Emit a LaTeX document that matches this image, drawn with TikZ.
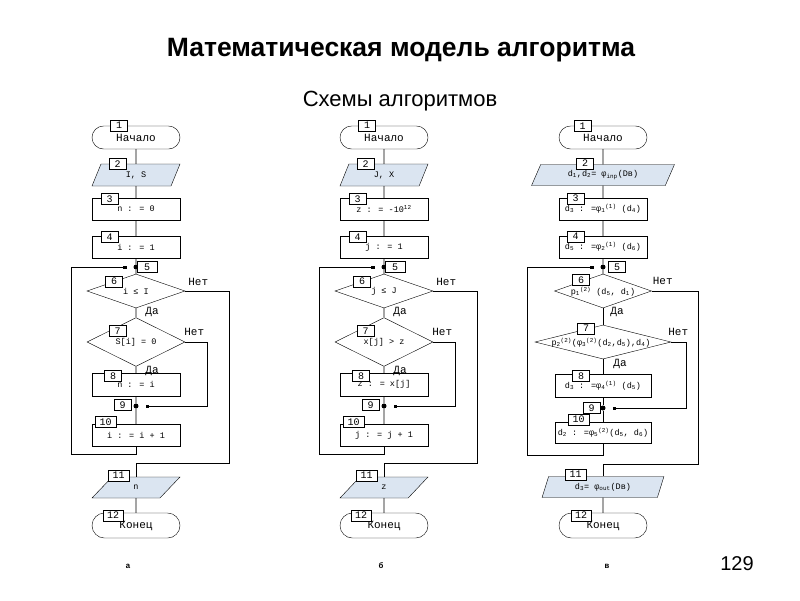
\documentclass[tikz,border=0pt]{standalone}
\usepackage{fontspec}
\setmainfont{Liberation Serif}
\setsansfont{Liberation Sans}
\newfontfamily\chartfont{Liberation Mono}
\usetikzlibrary{shapes.geometric,arrows.meta,calc,positioning}
\definecolor{iofill}{RGB}{219,229,241}
\newcommand{\chsub}[1]{\textsubscript{#1}}
\newcommand{\chsup}[1]{\textsuperscript{#1}}

\begin{document}
\begin{tikzpicture}[x=1pt,y=-1pt,
  every node/.style = {font=\chartfont\fontsize{8.5}{10}\selectfont},
  term/.style = {rectangle, rounded corners=11.5pt, draw, minimum width=88,
    minimum height=23, inner sep=0, font=\chartfont\fontsize{11}{12}\selectfont},
  io/.style = {trapezium, trapezium left angle=70, trapezium right angle=110,
    trapezium stretches=true, draw, fill=iofill, minimum width=88,
    minimum height=22, inner sep=0},
  proc/.style = {rectangle, draw, minimum width=88, minimum height=22, inner sep=0},
  dec/.style = {diamond, draw, minimum width=98, minimum height=34, inner sep=0},
  numbox/.style = {rectangle, draw, fill=white, minimum width=17,
    minimum height=11, inner sep=0, font=\chartfont\fontsize{10}{10}\selectfont},
  jdot/.style = {circle, fill, inner sep=0, minimum size=5},
  ans/.style = {font=\chartfont\fontsize{11}{12}\selectfont},
  flow/.style = {line width=0.6pt},
  jtip/.style = {-{Square[length=3pt,width=3pt]}, shorten >=7pt}]
  \fill[white] (0,0) rectangle (800,600);
  \useasboundingbox (0,0) rectangle (800,600);

  \node[font=\sffamily\bfseries\fontsize{26.5}{30}\selectfont] (title) at (401,50)
    {Математическая модель алгоритма};
  \node[font=\sffamily\fontsize{22}{25}\selectfont] (subtitle) at (400,101)
    {Схемы алгоритмов};
  \node[font=\sffamily\fontsize{20}{22}\selectfont] (page) at (737,564) {129};

  % схема а
  \node[term] (a1) at (136,137.5) {Начало};
  \node[io] (a2) at (136,175) {I, S};
  \node[proc] (a3) at (136,209) {n : = 0};
  \node[proc] (a4) at (136,247) {i : = 1};
  \node[jdot] (a5) at (136,267) {};
  \node[dec] (a6) at (136,291) {i ≤ I};
  \node[dec] (a7) at (136,342) {S[i] = 0};
  \node[proc, minimum height=23] (a8) at (136,384.5) {n : = i};
  \node[jdot] (a9) at (136,406) {};
  \node[proc] (a10) at (136,435) {i : = i + 1};
  \node[io, minimum height=21, trapezium left angle=65, trapezium right angle=115]
    (a11) at (136,487.5) {n};
  \node[term, minimum height=25, rounded corners=12.5pt] (a12) at (136,525.5) {Конец};
  \node[numbox] (a1n) at ($(a1)+(-17,-12)$) {1};
  \node[numbox] (a2n) at ($(a2)+(-18.5,-11)$) {2};
  \node[numbox] (a3n) at ($(a3)+(-26.5,-10)$) {3};
  \node[numbox] (a4n) at ($(a4)+(-26.5,-10)$) {4};
  \node[numbox, minimum width=20] (a5n) at ($(a5)+(11,0)$) {5};
  \node[numbox] (a6n) at ($(a6)+(-22,-9.5)$) {6};
  \node[numbox] (a7n) at ($(a7)+(-18.5,-11)$) {7};
  \node[numbox] (a8n) at ($(a8)+(-23,-8.5)$) {8};
  \node[numbox] (a9n) at ($(a9)+(-13.5,-1)$) {9};
  \node[numbox, minimum width=21] (a10n) at ($(a10)+(-30.5,-13)$) {10};
  \node[numbox, minimum width=21] (a11n) at ($(a11)+(-17.5,-12)$) {11};
  \node[numbox, minimum width=20] (a12n) at ($(a12)+(-23,-10)$) {12};
  \node[ans] (a6yes) at ($(a6.south)+(16,4)$) {Да};
  \node[ans] (a7yes) at ($(a7.south)+(16,4)$) {Да};
  \node[ans] (a6no) at ($(a6.east)+(13,-9)$) {Нет};
  \node[ans] (a7no) at ($(a7.east)+(9,-10)$) {Нет};
  \draw[flow] (a1) -- (a2) -- (a3) -- (a4) -- (a5) -- (a6) -- (a7) -- (a8)
    -- (a9) -- (a10);
  \draw[flow] (a11) -- (a12);
  \draw[flow, jtip] (a10.south) -- ++(0,8) -| ($(a5)+(-65,0)$) -- (a5);
  \draw[flow] (a6.east) -- ++(44,0) |- ($(a11.north)+(0,-14)$) -- (a11.north);
  \draw[flow, jtip] (a7.east) -- ++(22,0) |- (a9);
  \node[font=\chartfont\bfseries\fontsize{8}{9}\selectfont] (capa) at (128,566) {а};

  % схема б
  \node[term] (b1) at (384,137.5) {Начало};
  \node[io] (b2) at (384,175) {J, X};
  \node[proc] (b3) at (384,209) {z : = -10\chsup{12}};
  \node[proc] (b4) at (384,247) {j : = 1};
  \node[jdot] (b5) at (384,267) {};
  \node[dec] (b6) at (384,291) {j ≤ J};
  \node[dec] (b7) at (384,342) {x[j] > z};
  \node[proc, minimum height=23] (b8) at (384,384.5) {z : = x[j]};
  \node[jdot] (b9) at (384,406) {};
  \node[proc] (b10) at (384,435) {j : = j + 1};
  \node[io, minimum height=21, trapezium left angle=65, trapezium right angle=115]
    (b11) at (384,487.5) {z};
  \node[term, minimum height=25, rounded corners=12.5pt] (b12) at (384,525.5) {Конец};
  \node[numbox] (b1n) at ($(b1)+(-17,-12)$) {1};
  \node[numbox] (b2n) at ($(b2)+(-18.5,-11)$) {2};
  \node[numbox] (b3n) at ($(b3)+(-26.5,-10)$) {3};
  \node[numbox] (b4n) at ($(b4)+(-26.5,-10)$) {4};
  \node[numbox, minimum width=20] (b5n) at ($(b5)+(11,0)$) {5};
  \node[numbox] (b6n) at ($(b6)+(-22,-9.5)$) {6};
  \node[numbox] (b7n) at ($(b7)+(-18.5,-11)$) {7};
  \node[numbox] (b8n) at ($(b8)+(-23,-8.5)$) {8};
  \node[numbox] (b9n) at ($(b9)+(-13.5,-1)$) {9};
  \node[numbox, minimum width=21] (b10n) at ($(b10)+(-30.5,-13)$) {10};
  \node[numbox, minimum width=21] (b11n) at ($(b11)+(-17.5,-12)$) {11};
  \node[numbox, minimum width=20] (b12n) at ($(b12)+(-23,-10)$) {12};
  \node[ans] (b6yes) at ($(b6.south)+(16,4)$) {Да};
  \node[ans] (b7yes) at ($(b7.south)+(16,4)$) {Да};
  \node[ans] (b6no) at ($(b6.east)+(13,-9)$) {Нет};
  \node[ans] (b7no) at ($(b7.east)+(9,-10)$) {Нет};
  \draw[flow] (b1) -- (b2) -- (b3) -- (b4) -- (b5) -- (b6) -- (b7) -- (b8)
    -- (b9) -- (b10);
  \draw[flow] (b11) -- (b12);
  \draw[flow, jtip] (b10.south) -- ++(0,8) -| ($(b5)+(-65,0)$) -- (b5);
  \draw[flow] (b6.east) -- ++(44,0) |- ($(b11.north)+(0,-14)$) -- (b11.north);
  \draw[flow, jtip] (b7.east) -- ++(22,0) |- (b9);
  \node[font=\chartfont\bfseries\fontsize{8}{9}\selectfont] (capb) at (381,566) {б};

  % схема в
  \node[term] (c1) at (603,137.5) {Начало};
  \node[io, minimum width=144, minimum height=21, trapezium left angle=60,
    trapezium right angle=120] (c2) at (603,175)
    {d\chsub{1},d\chsub{2}= φ\chsub{inp}(Dв)};
  \node[proc] (c3) at (603,209) {d\chsub{3} : =φ\chsub{1}\chsup{(1)} (d\chsub{4})};
  \node[proc] (c4) at (603,247) {d\chsub{5} : =φ\chsub{2}\chsup{(1)} (d\chsub{6})};
  \node[jdot] (c5) at (603,267) {};
  \node[dec, minimum width=97] (c6) at (603,291) {};
  \node (c6t) at (603,292) {p\chsub{1}\chsup{(2)} (d\chsub{5}, d\chsub{1})};
  \node[dec, minimum width=136] (c7) at (603,342) {};
  \node (c7t) at (601,343)
    {p\chsub{2}\chsup{(2)}(φ\chsub{3}\chsup{(2)}(d\chsub{2},d\chsub{5}),d\chsub{4})};
  \node[proc, minimum width=96, minimum height=23] (c8) at (603,385.5)
    {d\chsub{3} : =φ\chsub{4}\chsup{(1)} (d\chsub{5})};
  \node[jdot] (c9) at (603,408) {};
  \node[proc, minimum width=96, minimum height=21] (c10) at (603,432.5)
    {d\chsub{2} : =φ\chsub{5}\chsup{(2)}(d\chsub{5}, d\chsub{6})};
  \node[io, minimum width=122, minimum height=21, trapezium left angle=67,
    trapezium right angle=113] (c11) at (603,487) {d\chsub{3}= φ\chsub{out}(Dв)};
  \node[term, minimum height=25, rounded corners=12.5pt] (c12) at (603,525.5) {Конец};
  \node[numbox] (c1n) at ($(c1)+(-20.5,-11.5)$) {1};
  \node[numbox] (c2n) at ($(c2)+(-18,-11.5)$) {2};
  \node[numbox] (c3n) at ($(c3)+(-27.5,-10.5)$) {3};
  \node[numbox] (c4n) at ($(c4)+(-27.5,-10.5)$) {4};
  \node[numbox] (c5n) at ($(c5)+(14,0)$) {5};
  \node[numbox] (c6n) at ($(c6)+(-22,-11)$) {6};
  \node[numbox] (c7n) at ($(c7)+(-17,-13.5)$) {7};
  \node[numbox] (c8n) at ($(c8)+(-22,-9.5)$) {8};
  \node[numbox] (c9n) at ($(c9)+(-11.5,0)$) {9};
  \node[numbox, minimum width=21] (c10n) at ($(c10)+(-24.5,-13)$) {10};
  \node[numbox, minimum width=21] (c11n) at ($(c11)+(-27.5,-12.5)$) {11};
  \node[numbox, minimum width=20] (c12n) at ($(c12)+(-22,-10)$) {12};
  \node[ans] (c6yes) at ($(c6.south)+(14,4)$) {Да};
  \node[ans] (c7yes) at ($(c7.south)+(17,5)$) {Да};
  \node[ans] (c6no) at ($(c6.east)+(11,-10)$) {Нет};
  \node[ans] (c7no) at ($(c7.east)+(7,-10)$) {Нет};
  \draw[flow] (c1) -- (c2) -- (c3) -- (c4) -- (c5) -- (c6.north);
  \draw[flow] (c6.south) -- (c7.north);
  \draw[flow] (c7.south) -- (c8) -- (c9) -- (c10);
  \draw[flow] (c11) -- (c12);
  \draw[flow, jtip] (c10.south) -- ++(0,12) -| ($(c5)+(-76,0)$) -- (c5);
  \draw[flow] (c6.east) -- ++(46.5,0) |- ($(c11.north)+(0,-12)$) -- (c11.north);
  \draw[flow, jtip] (c7.east) -- ++(15,0) |- (c9);
  \node[font=\chartfont\bfseries\fontsize{8}{9}\selectfont] (capc) at (607,566) {в};
\end{tikzpicture}
\end{document}
